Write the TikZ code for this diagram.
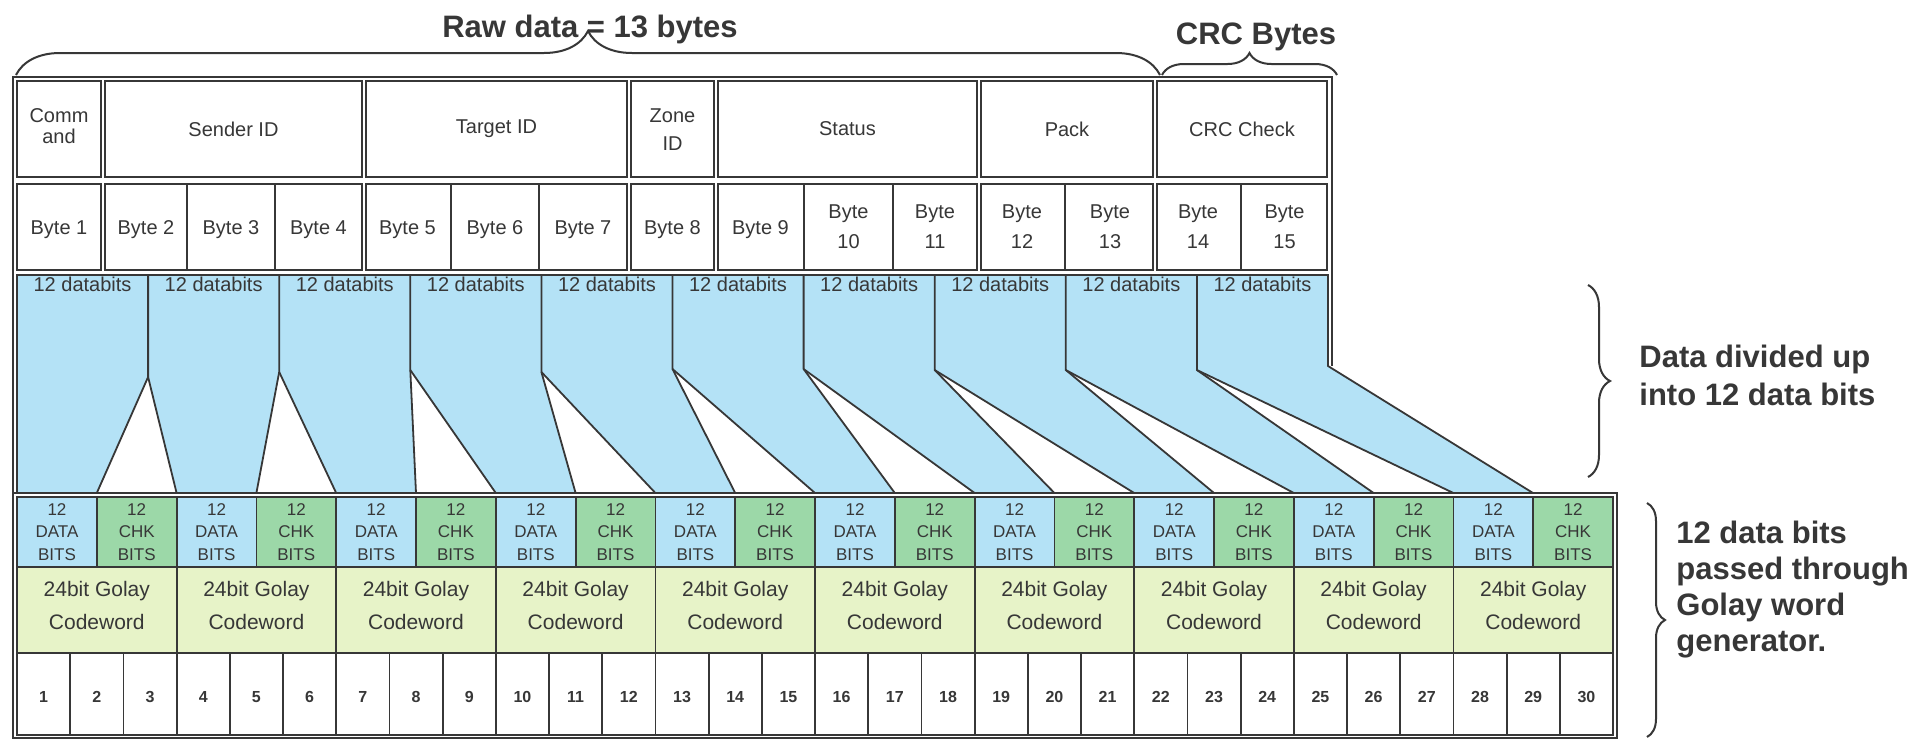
\documentclass[tikz,border=0pt]{standalone}
\usepackage{fontspec}
\setmainfont{Liberation Sans}
\usepackage{tikz}
\usetikzlibrary{decorations.pathreplacing}

\definecolor{segblue}{RGB}{180,226,246}
\definecolor{chkgreen}{RGB}{156,216,168}
\definecolor{golaylime}{RGB}{231,243,200}
\definecolor{inkgray}{RGB}{55,55,55}
\newcommand{\cellfont}[2]{\fontsize{#1}{#2}\selectfont}

\begin{document}
\begin{tikzpicture}[x=0.5pt,y=-0.5pt,
    tabline/.style={draw=inkgray,line width=0.9pt},
    celltxt/.style={text=inkgray,inner sep=0pt,align=center,font=\cellfont{10}{15}},
    sidelbl/.style={text=inkgray,inner sep=0pt,font=\bfseries\cellfont{15.5}{19}},
    bracebar/.style={decorate,draw=inkgray,line width=1pt}]
  \useasboundingbox (0,0) rectangle (1924,740);
  \fill[white] (0,0) rectangle (1924,740);

  % Braces and titles
  \draw[bracebar,decoration={brace,amplitude=22pt}] (16,75) -- (1160,75);
  \draw[bracebar,decoration={brace,amplitude=11pt}] (1162,75) -- (1337,75);
  \node[sidelbl] (rawlbl) at (590,29) {Raw data = 13 bytes};
  \node[sidelbl] (crclbl) at (1256,37) {CRC Bytes};

  % Outer frame of the byte table
  \draw[tabline] (13,493) -- (13,77) -- (1332,77) -- (1332,366);

  % Field row and byte row
  \foreach \xa/\xb in {17/101,105/362,366/627,631/714,718/977,981/1153,1157/1327}{
    \draw[tabline,fill=white] (\xa,81) rectangle (\xb,177);
    \draw[tabline,fill=white] (\xa,184) rectangle (\xb,270);
  }
  \node[celltxt,font=\cellfont{10}{10.5}] (cmd) at (59,126) {Comm\\and};
  \node[celltxt] (sender) at (233.5,129) {Sender ID};
  \node[celltxt] (target) at (496.5,129) {Target ID};
  \node[celltxt,font=\cellfont{10}{14}] (zone) at (672.5,130) {Zone\\ID};
  \node[celltxt] (status) at (847.5,129) {Status};
  \node[celltxt] (pack) at (1067,129) {Pack};
  \node[celltxt] (crc) at (1242,129) {CRC Check};

  \foreach \xd in {187,275,451,539,804,893,1065,1241}
    \draw[tabline] (\xd,184) -- (\xd,270);
  \foreach \i/\xc in {1/59,2/146,3/231,4/318.5,5/407.5,6/495,7/583,8/672.5,9/760.5}
    \node[celltxt] (byte\i) at (\xc,230) {Byte \i};
  \foreach \i/\xc in {10/848.5,11/935,12/1022,13/1110,14/1198,15/1284.5}
    \node[celltxt] (byte\i) at (\xc,227) {Byte\\\i};

  % Split into 12 bit pieces
  \fill[segblue] (17,275) -- (1328,275) -- (1328,366) -- (1533,493) -- (17,493) -- cycle;
  \foreach \k/\ky in {1/377,2/372,3/370,4/372,5/369,6/369,7/370,8/370,9/370}{
    \fill[white] ({17+131.1*\k},\ky) -- ({17+159.6*\k},493)
      -- ({17+159.6*\k-79.8},493) -- cycle;
    \draw[tabline] ({17+131.1*\k},275) -- ({17+131.1*\k},\ky)
      -- ({17+159.6*\k-79.8},493);
    \draw[tabline] ({17+131.1*\k},\ky) -- ({17+159.6*\k},493);
  }
  \draw[tabline] (17,493) -- (17,275) -- (1328,275) -- (1328,366) -- (1533,493);
  \foreach \k in {0,...,9}
    \node[celltxt] (seg\k) at ({17+131.1*(\k+0.5)},284) {12 databits};

  % Golay codeword table
  \foreach \i in {0,...,9}{
    \fill[segblue] ({17+159.6*\i},497) rectangle ({96.8+159.6*\i},567);
    \fill[chkgreen] ({96.8+159.6*\i},497) rectangle ({176.6+159.6*\i},567);
    \fill[golaylime] ({17+159.6*\i},567) rectangle ({176.6+159.6*\i},653);
    \draw[tabline] ({96.8+159.6*\i},497) -- ({96.8+159.6*\i},567);
    \draw[tabline] ({70.2+159.6*\i},653) -- ({70.2+159.6*\i},735);
    \draw[tabline] ({123.4+159.6*\i},653) -- ({123.4+159.6*\i},735);
    \node[celltxt,font=\cellfont{8.5}{11.25}] (dat\i) at ({57+159.6*\i},532) {12\\DATA\\BITS};
    \node[celltxt,font=\cellfont{8.5}{11.25}] (chk\i) at ({136.7+159.6*\i},532) {12\\CHK\\BITS};
    \node[celltxt,font=\cellfont{10.5}{16.5}] (golay\i) at ({96.8+159.6*\i},605) {24bit Golay\\Codeword};
  }
  \foreach \i in {1,...,9}
    \draw[tabline] ({17+159.6*\i},497) -- ({17+159.6*\i},735);
  \draw[tabline] (17,567) -- (1613,567) (17,653) -- (1613,653);
  \draw[tabline] (17,497) rectangle (1613,735);
  \draw[tabline] (13,493) -- (1617,493) -- (1617,738) -- (13,738) -- cycle;
  \foreach \n in {1,...,30}
    \node[celltxt,font=\bfseries\cellfont{8}{10}] (num\n) at ({17+53.2*(\n-0.5)},697) {\n};

  % Side notes
  \draw[bracebar,decoration={brace,amplitude=11pt}] (1588,285) -- (1588,477);
  \node[sidelbl,anchor=west,align=left] (divlbl) at (1639,375)
    {Data divided up\\into 12 data bits};
  \draw[bracebar,decoration={brace,amplitude=9pt}] (1647,503) -- (1647,737);
  \node[sidelbl,anchor=west,align=left,font=\bfseries\cellfont{15.5}{18}] (golaylbl) at (1676,590)
    {12 data bits\\passed through\\Golay word\\generator.};
\end{tikzpicture}
\end{document}
